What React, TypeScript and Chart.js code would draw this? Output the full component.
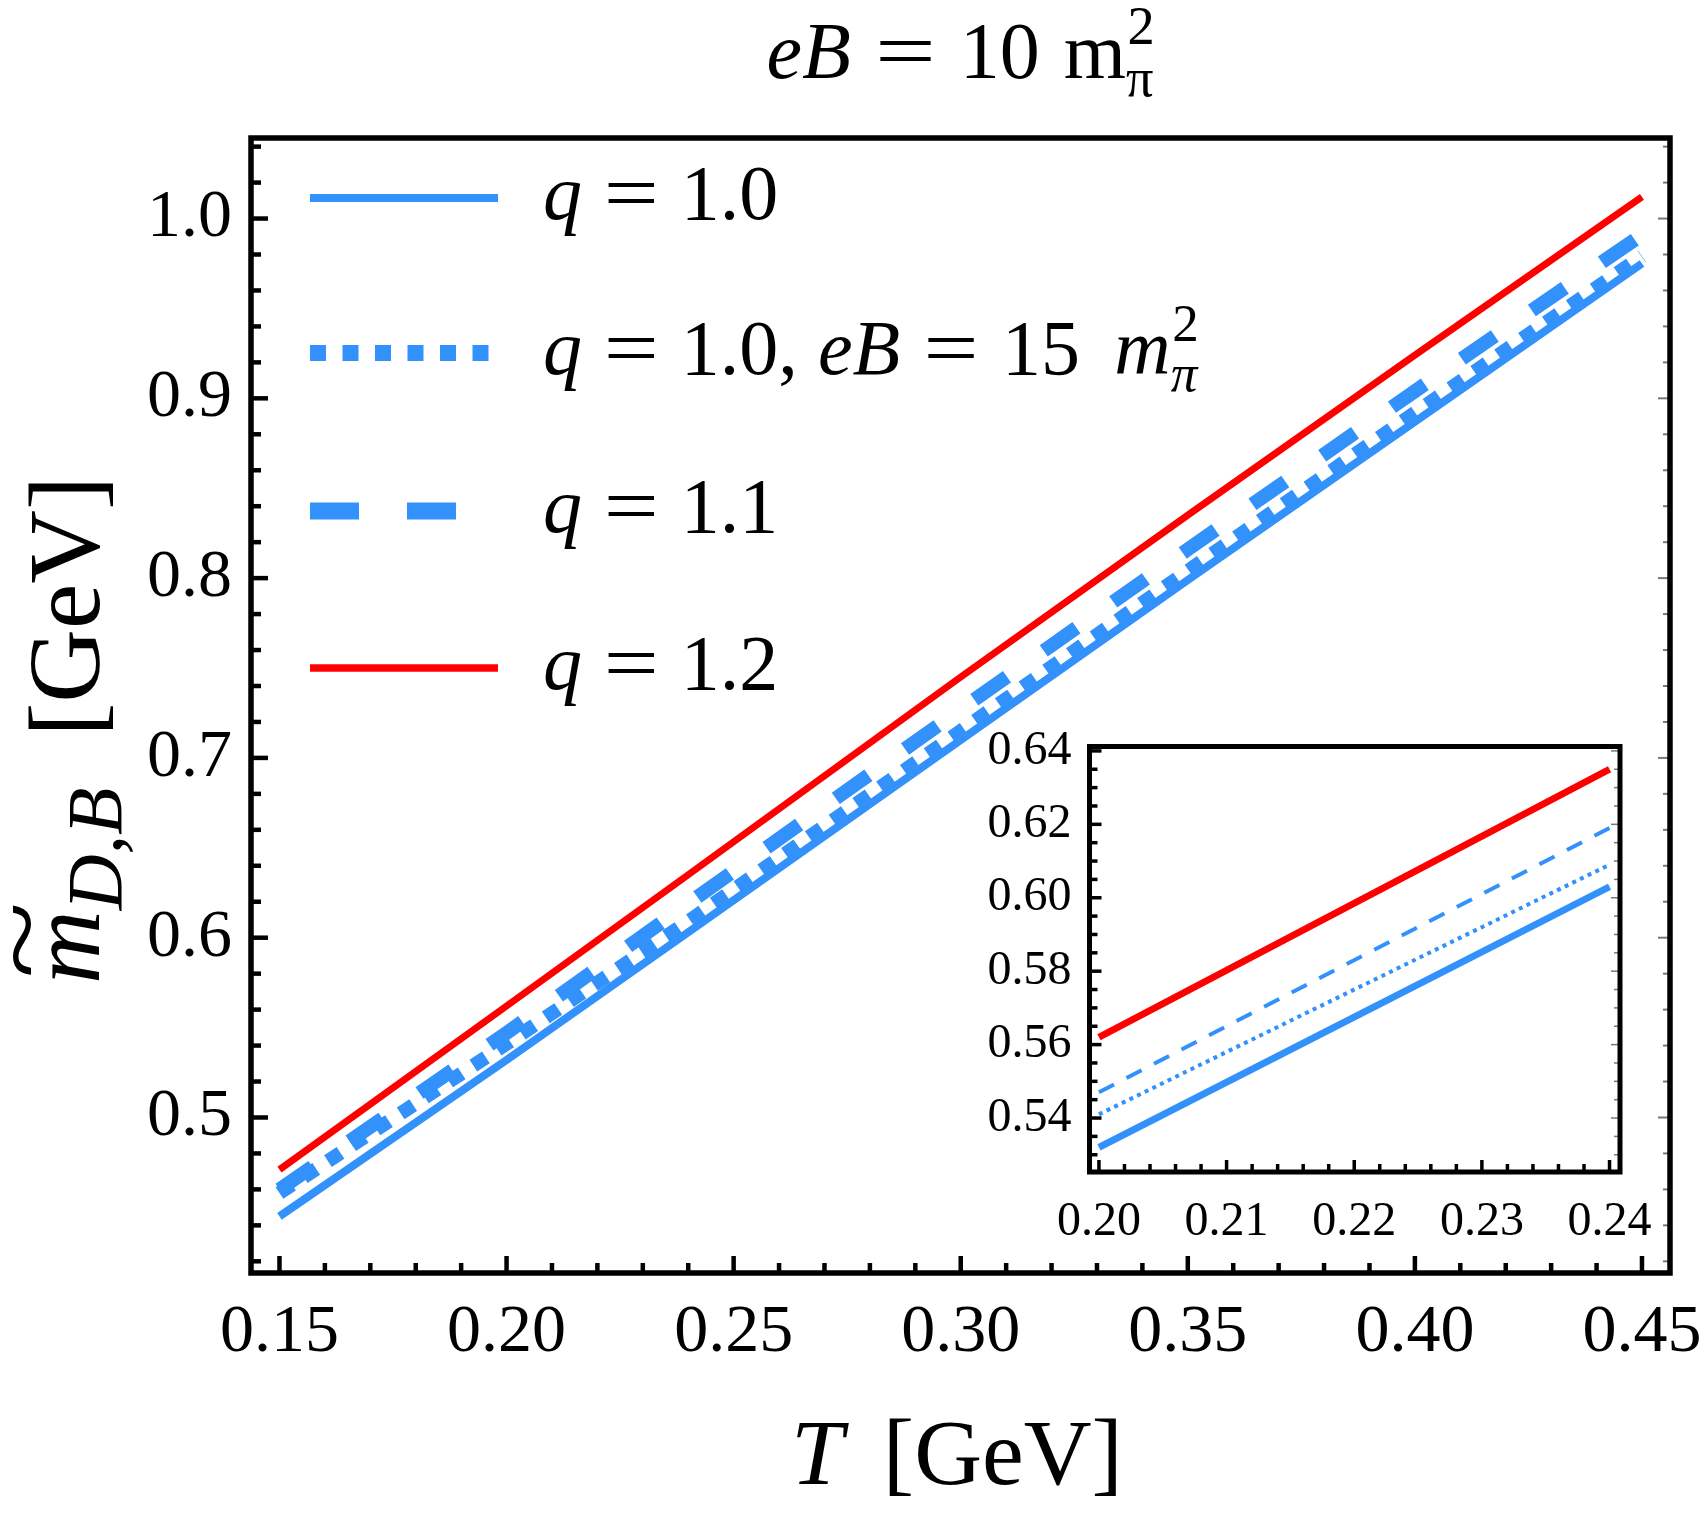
import React, { useEffect, useRef } from "react";
import { Chart, registerables } from "chart.js";

Chart.register(...registerables);

// ---------- data ----------
const T = [0.15, 0.2, 0.24, 0.3, 0.35, 0.4, 0.45];
const q10 = [0.445, 0.532, 0.603, 0.71, 0.799, 0.887, 0.975];
const q10eB15 = [0.458, 0.541, 0.609, 0.715, 0.804, 0.892, 0.979];
const q11 = [0.46, 0.547, 0.619, 0.727, 0.816, 0.904, 0.991];
const q12 = [0.471, 0.562, 0.635, 0.745, 0.835, 0.924, 1.012];

const mainXTicks = [0.15, 0.2, 0.25, 0.3, 0.35, 0.4, 0.45];
const mainXLabels = ["0.15", "0.20", "0.25", "0.30", "0.35", "0.40", "0.45"];
const mainYTicks = [0.5, 0.6, 0.7, 0.8, 0.9, 1.0];
const mainYLabels = ["0.5", "0.6", "0.7", "0.8", "0.9", "1.0"];
const insetXTicks = [0.2, 0.21, 0.22, 0.23, 0.24];
const insetXLabels = ["0.20", "0.21", "0.22", "0.23", "0.24"];
const insetYTicks = [0.54, 0.56, 0.58, 0.6, 0.62, 0.64];
const insetYLabels = ["0.54", "0.56", "0.58", "0.60", "0.62", "0.64"];
const insetTRange = [0.2, 0.24];

// ---------- styles ----------
const BLUE = "rgb(50,145,250)";
const RED = "rgb(255,0,0)";
const FAM = '"Liberation Serif", "Times New Roman", "DejaVu Serif", serif';

type Seg = {
  t?: string;
  it?: boolean;
  dx?: number;
  sx?: number;
  tilde?: boolean;
  sub?: string;
  sup?: string;
  subIt?: boolean;
  supIt?: boolean;
  ssc?: number;
};

function fnt(sz: number, it?: boolean) {
  return `${it ? "italic " : ""}${sz}px ${FAM}`;
}

function segWidth(ctx: CanvasRenderingContext2D, s: Seg, sz: number) {
  let w = (s.dx || 0) * sz;
  if (s.t) {
    ctx.font = fnt(sz, s.it);
    w += ctx.measureText(s.t).width * (s.sx || 1);
  }
  if (s.sub || s.sup) {
    const ss = sz * (s.ssc || 0.68);
    let a = 0,
      b = 0;
    if (s.sub) {
      ctx.font = fnt(ss, s.subIt);
      a = ctx.measureText(s.sub).width;
    }
    if (s.sup) {
      ctx.font = fnt(ss, s.supIt);
      b = ctx.measureText(s.sup).width;
    }
    w += Math.max(a, b);
  }
  return w;
}

function measureRich(ctx: CanvasRenderingContext2D, segs: Seg[], sz: number) {
  let w = 0;
  for (const s of segs) w += segWidth(ctx, s, sz);
  return w;
}

function drawRich(
  ctx: CanvasRenderingContext2D,
  segs: Seg[],
  x: number,
  y: number,
  sz: number,
  align: "left" | "center"
) {
  let cx = align === "center" ? x - measureRich(ctx, segs, sz) / 2 : x;
  ctx.textAlign = "left";
  ctx.textBaseline = "alphabetic";
  ctx.fillStyle = "#000";
  for (const s of segs) {
    cx += (s.dx || 0) * sz;
    if (s.t) {
      ctx.font = fnt(sz, s.it);
      const sx = s.sx || 1;
      const w = ctx.measureText(s.t).width * sx;
      ctx.save();
      ctx.translate(cx, y);
      ctx.scale(sx, 1);
      ctx.fillText(s.t, 0, 0);
      ctx.restore();
      if (s.tilde) {
        ctx.font = fnt(sz, false);
        const tw = ctx.measureText("~").width;
        ctx.save();
        ctx.translate(cx + w / 2 + sz * 0.07, y - sz * 0.4);
        ctx.scale((w * 1.05) / tw, 1.05);
        ctx.fillText("~", -tw / 2, 0);
        ctx.restore();
      }
      cx += w;
    }
    if (s.sub || s.sup) {
      const ss = sz * (s.ssc || 0.68);
      let a = 0,
        b = 0;
      if (s.sub) {
        ctx.font = fnt(ss, s.subIt);
        ctx.fillText(s.sub, cx, y + sz * 0.22);
        a = ctx.measureText(s.sub).width;
      }
      if (s.sup) {
        ctx.font = fnt(ss, s.supIt);
        ctx.fillText(s.sup, cx + sz * 0.02, y - sz * 0.42);
        b = ctx.measureText(s.sup).width;
      }
      cx += Math.max(a, b);
    }
  }
}

function ticksAlong(min: number, max: number, step: number) {
  const out: number[] = [];
  const s = Math.ceil(min / step - 1e-6);
  const e = Math.floor(max / step + 1e-6);
  for (let i = s; i <= e; i++) out.push(i * step);
  return out;
}
function isMajor(v: number, major: number) {
  const r = v / major;
  return Math.abs(r - Math.round(r)) < 1e-6;
}

type TickCfg = {
  xMinor: number;
  xMajor: number;
  yMinor: number;
  yMajor: number;
  majLen: number;
  minLen: number;
  w: number;
  rMaj: number;
  rMin: number;
  rw: number;
  frame: number;
};

function drawFrameTicks(chart: any, c: TickCfg) {
  const ctx: CanvasRenderingContext2D = chart.ctx;
  const a = chart.chartArea;
  const xs = chart.scales.x;
  const ys = chart.scales.y;
  ctx.save();
  ctx.lineCap = "butt";
  ctx.strokeStyle = "#000";
  ctx.lineWidth = c.w;
  for (const v of ticksAlong(xs.min, xs.max, c.xMinor)) {
    const px = xs.getPixelForValue(v);
    const len = isMajor(v, c.xMajor) ? c.majLen : c.minLen;
    ctx.beginPath();
    ctx.moveTo(px, a.bottom);
    ctx.lineTo(px, a.bottom - len);
    ctx.stroke();
  }
  for (const v of ticksAlong(ys.min, ys.max, c.yMinor)) {
    const py = ys.getPixelForValue(v);
    const len = isMajor(v, c.yMajor) ? c.majLen : c.minLen;
    ctx.beginPath();
    ctx.moveTo(a.left, py);
    ctx.lineTo(a.left + len, py);
    ctx.stroke();
  }
  ctx.strokeStyle = "#777";
  ctx.lineWidth = c.rw;
  for (const v of ticksAlong(ys.min, ys.max, c.yMinor)) {
    const py = ys.getPixelForValue(v);
    const len = isMajor(v, c.yMajor) ? c.rMaj : c.rMin;
    ctx.beginPath();
    ctx.moveTo(a.right, py);
    ctx.lineTo(a.right - len, py);
    ctx.stroke();
  }
  ctx.strokeStyle = "#000";
  ctx.lineWidth = c.frame;
  ctx.strokeRect(a.left, a.top, a.right - a.left, a.bottom - a.top);
  ctx.restore();
}

const EQ = 1.25;
const titleSegs: Seg[] = [
  { t: "e", it: true },
  { t: "B", it: true },
  { t: "=", dx: 0.3, sx: 1.35 },
  { t: "10", dx: 0.3 },
  { t: "m", dx: 0.3 },
  { sub: "π", sup: "2" },
];
const xTitleSegs: Seg[] = [{ t: "T", it: true }, { t: "[GeV]", dx: 0.42 }];
const yTitleSegs: Seg[] = [
  { t: "m", it: true, tilde: true },
  { sub: "D,B", subIt: true, ssc: 0.76 },
  { t: "[GeV]", dx: 0.5 },
];
const legendTexts: Seg[][] = [
  [{ t: "q", it: true }, { t: "=", dx: 0.28, sx: EQ }, { t: "1.0", dx: 0.28 }],
  [
    { t: "q", it: true },
    { t: "=", dx: 0.28, sx: EQ },
    { t: "1.0,", dx: 0.28 },
    { t: "eB", it: true, dx: 0.26 },
    { t: "=", dx: 0.3, sx: EQ },
    { t: "15", dx: 0.3 },
    { t: "m", it: true, dx: 0.44 },
    { sub: "π", sup: "2", subIt: true },
  ],
  [{ t: "q", it: true }, { t: "=", dx: 0.28, sx: EQ }, { t: "1.1", dx: 0.28 }],
  [{ t: "q", it: true }, { t: "=", dx: 0.28, sx: EQ }, { t: "1.2", dx: 0.28 }],
];
const legendStyles = [
  { color: BLUE, width: 8, dash: [] as number[] },
  { color: BLUE, width: 16, dash: [16, 16.5] },
  { color: BLUE, width: 17, dash: [49, 48] },
  { color: RED, width: 7.5, dash: [] as number[] },
];

const mainDecor = {
  id: "mainDecor",
  afterDraw(chart: any) {
    drawFrameTicks(chart, {
      xMinor: 0.01,
      xMajor: 0.05,
      yMinor: 0.02,
      yMajor: 0.1,
      majLen: 17,
      minLen: 10,
      w: 4.5,
      rMaj: 12,
      rMin: 7,
      rw: 2,
      frame: 5.5,
    });
    const ctx: CanvasRenderingContext2D = chart.ctx;
    ctx.save();
    // legend
    const rowY = [198, 353, 511, 668];
    legendTexts.forEach((segs, i) => {
      const st = legendStyles[i];
      ctx.strokeStyle = st.color;
      ctx.lineWidth = st.width;
      ctx.lineCap = "butt";
      ctx.setLineDash(st.dash);
      ctx.beginPath();
      ctx.moveTo(310, rowY[i]);
      ctx.lineTo(498, rowY[i]);
      ctx.stroke();
      ctx.setLineDash([]);
      drawRich(ctx, segs, 543, rowY[i] + 21, 78, "left");
    });
    // title
    drawRich(ctx, titleSegs, 960, 78, 80, "center");
    // x title
    drawRich(ctx, xTitleSegs, 957, 1484, 94, "center");
    // y title
    ctx.save();
    ctx.translate(99, 730);
    ctx.rotate(-Math.PI / 2);
    drawRich(ctx, yTitleSegs, 0, 0, 102, "center");
    ctx.restore();
    ctx.restore();
  },
};

const insetDecor = {
  id: "insetDecor",
  beforeDatasetsDraw(chart: any) {
    const ctx: CanvasRenderingContext2D = chart.ctx;
    const a = chart.chartArea;
    ctx.save();
    ctx.fillStyle = "#fff";
    ctx.fillRect(a.left, a.top, a.right - a.left, a.bottom - a.top);
    ctx.restore();
  },
  afterDraw(chart: any) {
    drawFrameTicks(chart, {
      xMinor: 0.002,
      xMajor: 0.01,
      yMinor: 0.005,
      yMajor: 0.02,
      majLen: 12,
      minLen: 8,
      w: 3.5,
      rMaj: 9,
      rMin: 6,
      rw: 1.5,
      frame: 5,
    });
  },
};

function pts(ys: number[]) {
  return T.map((t, i) => ({ x: t, y: ys[i] }));
}
function insetPts(ys: number[]) {
  return pts(ys).filter((p) => p.x >= insetTRange[0] - 1e-9 && p.x <= insetTRange[1] + 1e-9);
}

function labelFor(ticks: number[], labels: string[]) {
  return (v: any) => {
    const i = ticks.findIndex((t) => Math.abs(t - Number(v)) < 1e-9);
    return i >= 0 ? labels[i] : "";
  };
}

function axis(
  min: number,
  max: number,
  ticks: number[],
  labels: string[],
  size: number,
  padding: number,
  fit: (s: any) => void
) {
  return {
    type: "linear" as const,
    min,
    max,
    grid: { display: false, drawTicks: false },
    border: { display: false },
    ticks: {
      autoSkip: false,
      maxRotation: 0,
      minRotation: 0,
      padding,
      color: "#000",
      font: { family: FAM, size },
      callback: labelFor(ticks, labels),
    },
    afterBuildTicks: (s: any) => {
      s.ticks = ticks.map((v) => ({ value: v }));
    },
    afterFit: (s: any) => {
      fit(s);
      s.paddingLeft = 0;
      s.paddingRight = 0;
      s.paddingTop = 0;
      s.paddingBottom = 0;
    },
  };
}

export default function App() {
  const mainRef = useRef<HTMLCanvasElement>(null);
  const insetRef = useRef<HTMLCanvasElement>(null);

  useEffect(() => {
    if (!mainRef.current || !insetRef.current) return;
    const main = new Chart(mainRef.current, {
      type: "line",
      data: {
        datasets: [
          { label: "q = 1.2", data: pts(q12), borderColor: RED, borderWidth: 7 },
          { label: "q = 1.1", data: pts(q11), borderColor: BLUE, borderWidth: 14, borderDash: [40, 45] },
          { label: "q = 1.0, eB = 15", data: pts(q10eB15), borderColor: BLUE, borderWidth: 14, borderDash: [15, 14] },
          { label: "q = 1.0", data: pts(q10), borderColor: BLUE, borderWidth: 8 },
        ],
      },
      options: {
        responsive: false,
        devicePixelRatio: 1,
        animation: false,
        events: [],
        layout: { padding: { left: 0, right: 35, top: 138, bottom: 0 } },
        elements: { point: { radius: 0 }, line: { tension: 0, borderCapStyle: "butt" } },
        plugins: { legend: { display: false }, tooltip: { enabled: false }, title: { display: false } },
        scales: {
          x: axis(0.14373, 0.45617, mainXTicks, mainXLabels, 68, 19, (s: any) => {
            s.height = 241;
          }),
          y: axis(0.4135, 1.0448, mainYTicks, mainYLabels, 68, 19, (s: any) => {
            s.width = 251;
          }),
        },
      },
      plugins: [mainDecor],
    } as any);

    const inset = new Chart(insetRef.current, {
      type: "line",
      data: {
        datasets: [
          { label: "q = 1.2", data: insetPts(q12), borderColor: RED, borderWidth: 7 },
          { label: "q = 1.1", data: insetPts(q11), borderColor: BLUE, borderWidth: 4, borderDash: [17, 14] },
          { label: "q = 1.0, eB = 15", data: insetPts(q10eB15), borderColor: BLUE, borderWidth: 4, borderDash: [4, 4.5] },
          { label: "q = 1.0", data: insetPts(q10), borderColor: BLUE, borderWidth: 7 },
        ],
      },
      options: {
        responsive: false,
        devicePixelRatio: 1,
        animation: false,
        events: [],
        layout: { padding: { left: 0, right: 60, top: 46.5, bottom: 0 } },
        elements: { point: { radius: 0 }, line: { tension: 0, borderCapStyle: "butt" } },
        plugins: { legend: { display: false }, tooltip: { enabled: false }, title: { display: false } },
        scales: {
          x: axis(0.19926, 0.24082, insetXTicks, insetXLabels, 48, 22, (s: any) => {
            s.height = 88;
          }),
          y: axis(0.5253, 0.6412, insetYTicks, insetYLabels, 48, 18, (s: any) => {
            s.width = 129.5;
          }),
        },
      },
      plugins: [insetDecor],
    } as any);

    return () => {
      main.destroy();
      inset.destroy();
    };
  }, []);

  return (
    <div style={{ position: "absolute", left: 0, top: 0, width: 1705, height: 1514, background: "#fff" }}>
      <canvas
        ref={mainRef}
        width={1705}
        height={1514}
        style={{ position: "absolute", left: 0, top: 0, width: 1705, height: 1514 }}
      />
      <canvas
        ref={insetRef}
        width={720}
        height={560}
        style={{ position: "absolute", left: 960, top: 700, width: 720, height: 560 }}
      />
    </div>
  );
}
